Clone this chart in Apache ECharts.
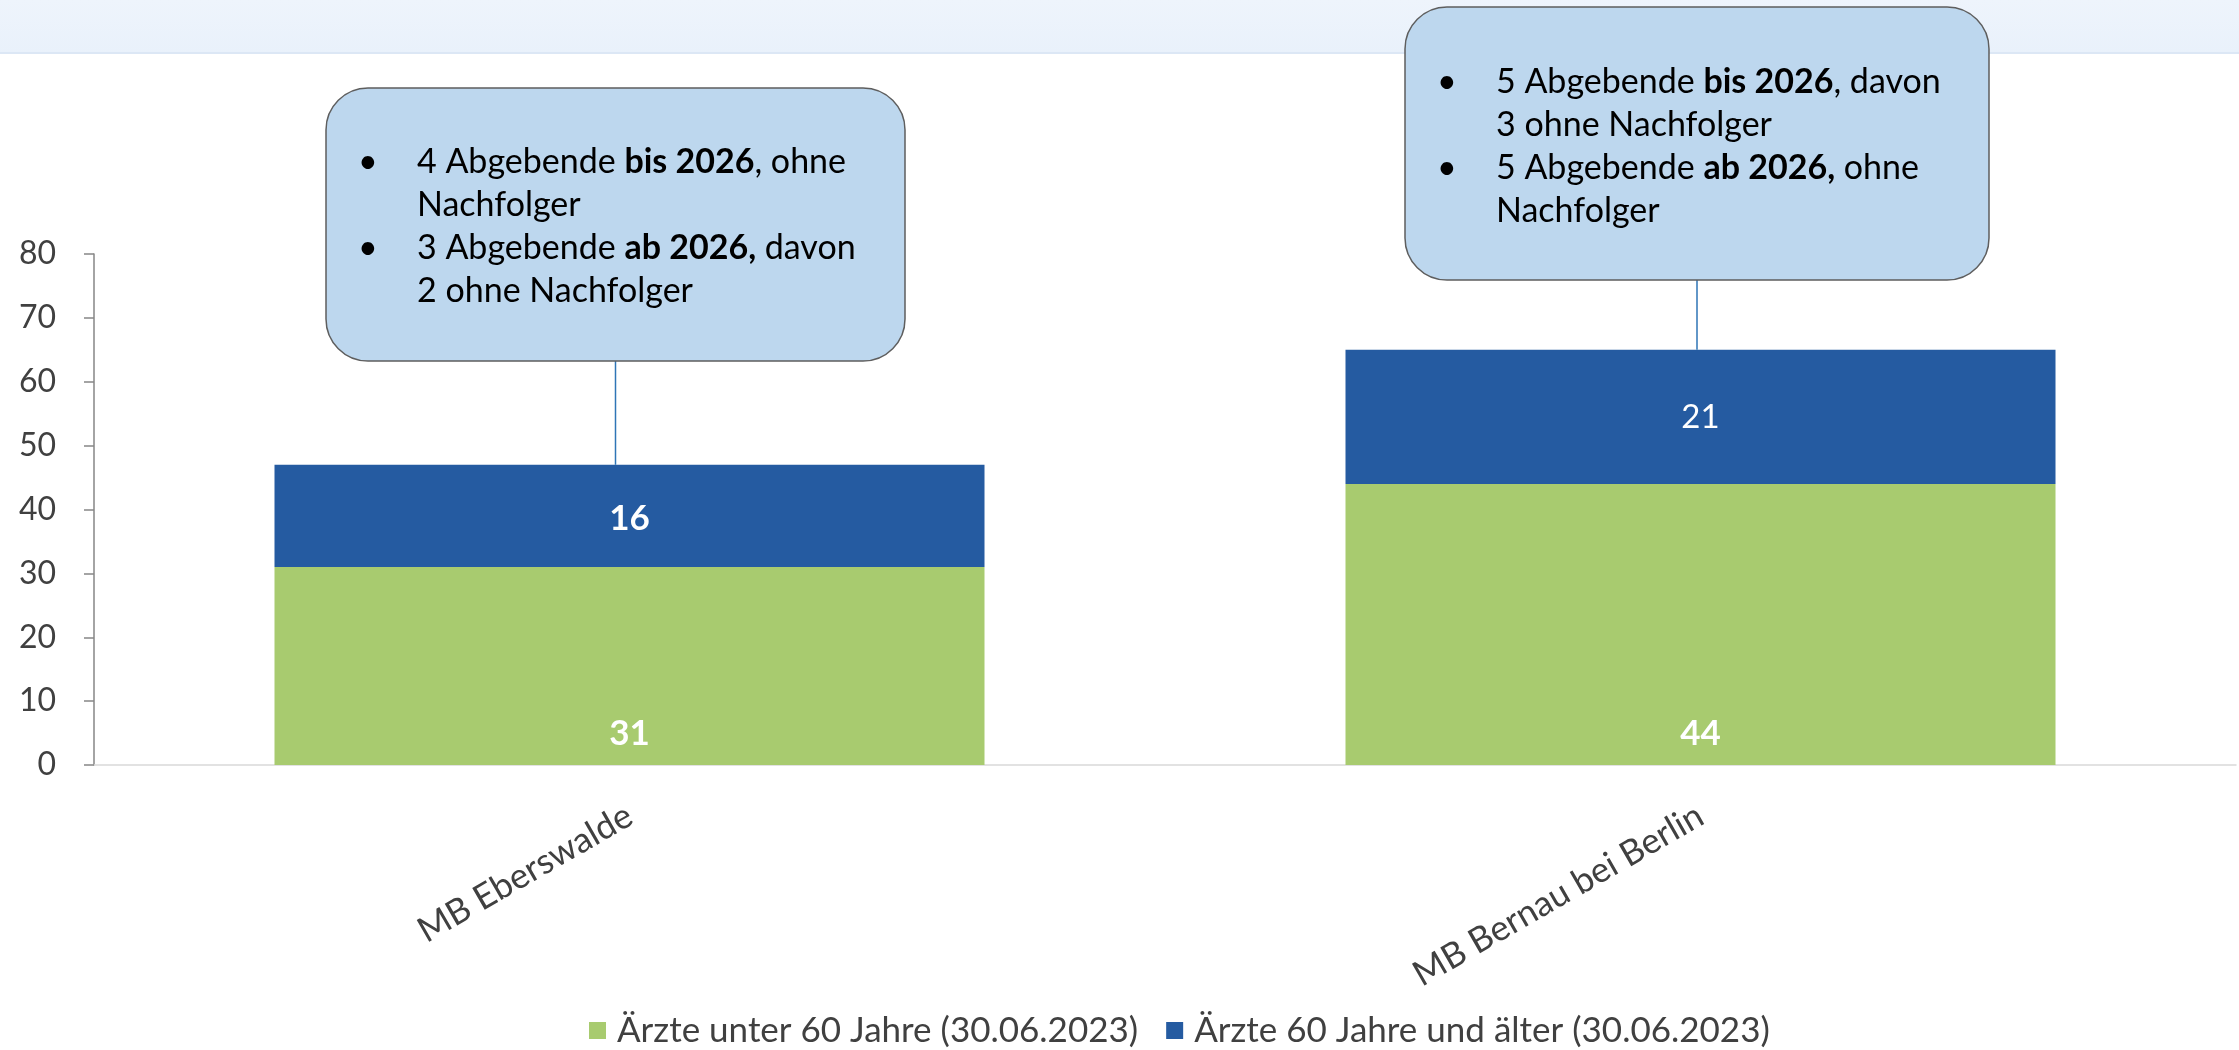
<!DOCTYPE html>
<html>
<head>
<meta charset="utf-8">
<script src="https://cdn.jsdelivr.net/npm/echarts@6/dist/echarts.min.js"></script>
<style>
    html, body { margin: 0; padding: 0; background: #fff; }
    #chart { width: 2239px; height: 1050px; }
</style>
</head>
<body>
<div id="chart"></div>
<script>
// data
const categories = ['MB Eberswalde', 'MB Bernau bei Berlin']
const seriesNames = ['Ärzte unter 60 Jahre (30.06.2023)', 'Ärzte 60 Jahre und älter (30.06.2023)']
const under60 = [31, 44]
const over60 = [16, 21]
const yMin = 0
const yMax = 80
const yStep = 10

// callout texts, one per category ({b|...} = bold)
const calloutLines = [
    ['{t|4 Abgebende }{b|bis 2026}{t|, ohne}', '{t|Nachfolger}', '{t|3 Abgebende }{b|ab 2026,}{t| davon}', '{t|2 ohne Nachfolger}'],
    ['{t|5 Abgebende }{b|bis 2026}{t|, davon}', '{t|3 ohne Nachfolger}', '{t|5 Abgebende }{b|ab 2026,}{t| ohne}', '{t|Nachfolger}']
]

const FONT = 'Lato, "Open Sans", sans-serif'
const GREEN = '#A8CB6F'
const BLUE = '#255BA1'
const TEXT = '#404040'

const chart = echarts.init(document.getElementById('chart'))

const option = {
    animation: false,
    textStyle: { fontFamily: FONT },
    grid: {
        left: 94,
        right: 3,
        top: 254,
        bottom: 285,
        containLabel: false
    },
    legend: {
        left: 584,
        top: 1008,
        itemWidth: 17,
        itemHeight: 17,
        itemGap: 28,
        icon: 'rect',
        textStyle: {
            color: TEXT,
            fontSize: 35,
            fontFamily: FONT,
            padding: [0, 0, 0, 6]
        },
        data: seriesNames
    },
    xAxis: {
        type: 'category',
        data: categories,
        axisLine: { lineStyle: { color: '#D9D9D9', width: 1.5 } },
        axisTick: { show: false },
        axisLabel: {
            rotate: 30,
            margin: 48,
            color: TEXT,
            fontSize: 35,
            fontFamily: FONT,
            interval: 0
        },
        splitLine: { show: false }
    },
    yAxis: {
        type: 'value',
        min: yMin,
        max: yMax,
        interval: yStep,
        axisLine: { show: true, lineStyle: { color: '#868686', width: 1.5 } },
        axisTick: { show: true, length: 10, lineStyle: { color: '#868686', width: 1.5 } },
        axisLabel: {
            color: TEXT,
            fontSize: 32,
            fontFamily: FONT,
            margin: 38
        },
        splitLine: { show: false }
    },
    series: [
        {
            name: seriesNames[0],
            type: 'bar',
            stack: 'total',
            barWidth: 710,
            data: under60,
            itemStyle: { color: GREEN },
            label: {
                show: true,
                position: 'insideBottom',
                distance: 14,
                color: '#fff',
                fontSize: 35,
                fontWeight: 'bold',
                fontFamily: FONT
            }
        },
        {
            name: seriesNames[1],
            type: 'bar',
            stack: 'total',
            barWidth: 710,
            data: over60,
            itemStyle: { color: BLUE },
            label: {
                show: true,
                position: 'inside',
                color: '#fff',
                fontFamily: FONT,
                // first one is bold in the original, second is not
                formatter: p => (p.dataIndex === 0 ? '{b|' : '{n|') + p.value + '}',
                rich: {
                    b: { color: '#fff', fontSize: 35, fontWeight: 'bold', fontFamily: FONT, padding: [6, 0, 0, 0] },
                    n: { color: '#fff', fontSize: 33, fontWeight: 'normal', fontFamily: FONT }
                }
            }
        }
    ]
}

chart.setOption(option)

// callout boxes (layout in px), connector goes down to the stack top
const boxes = [
    { x: 326, y: 88, w: 579, h: 273, textTop: 141 },
    { x: 1405, y: 7, w: 584, h: 273, textTop: 61 }
]

const richStyles = {
    t: { fontSize: 34, fontFamily: FONT, color: '#000', lineHeight: 43 },
    b: { fontSize: 34, fontFamily: FONT, color: '#000', fontWeight: 'bold', lineHeight: 43 }
}

const graphics = [
    {
        type: 'rect',
        z: 0,
        silent: true,
        shape: { x: 0, y: 0, width: 2239, height: 53 },
        style: {
            fill: new echarts.graphic.LinearGradient(0, 0, 0, 1, [
                { offset: 0, color: '#EEF4FC' },
                { offset: 1, color: '#E9F1FB' }
            ])
        }
    },
    {
        type: 'line',
        z: 0,
        silent: true,
        shape: { x1: 0, y1: 53, x2: 2239, y2: 53 },
        style: { stroke: '#DCE7F5', lineWidth: 2 }
    }
]

boxes.forEach((b, i) => {
    const top = chart.convertToPixel({ gridIndex: 0 }, [i, under60[i] + over60[i]])
    const cx = b.x + b.w / 2
    graphics.push({
        type: 'line',
        z: 10,
        silent: true,
        shape: { x1: cx, y1: b.y + b.h, x2: cx, y2: top[1] },
        style: { stroke: '#2E75B6', lineWidth: 1.5 }
    })
    graphics.push({
        type: 'rect',
        z: 11,
        silent: true,
        shape: { x: b.x, y: b.y, width: b.w, height: b.h, r: 42 },
        style: { fill: '#BDD7EE', stroke: '#5E5E5E', lineWidth: 1.5 }
    })
    graphics.push({
        type: 'text',
        z: 12,
        silent: true,
        x: b.x + 32,
        y: b.textTop,
        style: {
            text: '•\n\n•',
            fontSize: 34,
            fontFamily: FONT,
            fill: '#000',
            lineHeight: 43
        }
    })
    graphics.push({
        type: 'text',
        z: 12,
        silent: true,
        x: b.x + 91,
        y: b.textTop,
        style: {
            text: calloutLines[i].join('\n'),
            rich: richStyles,
            fontSize: 34,
            fontFamily: FONT,
            fill: '#000',
            lineHeight: 43
        }
    })
})

chart.setOption({ graphic: graphics })
</script>
</body>
</html>
